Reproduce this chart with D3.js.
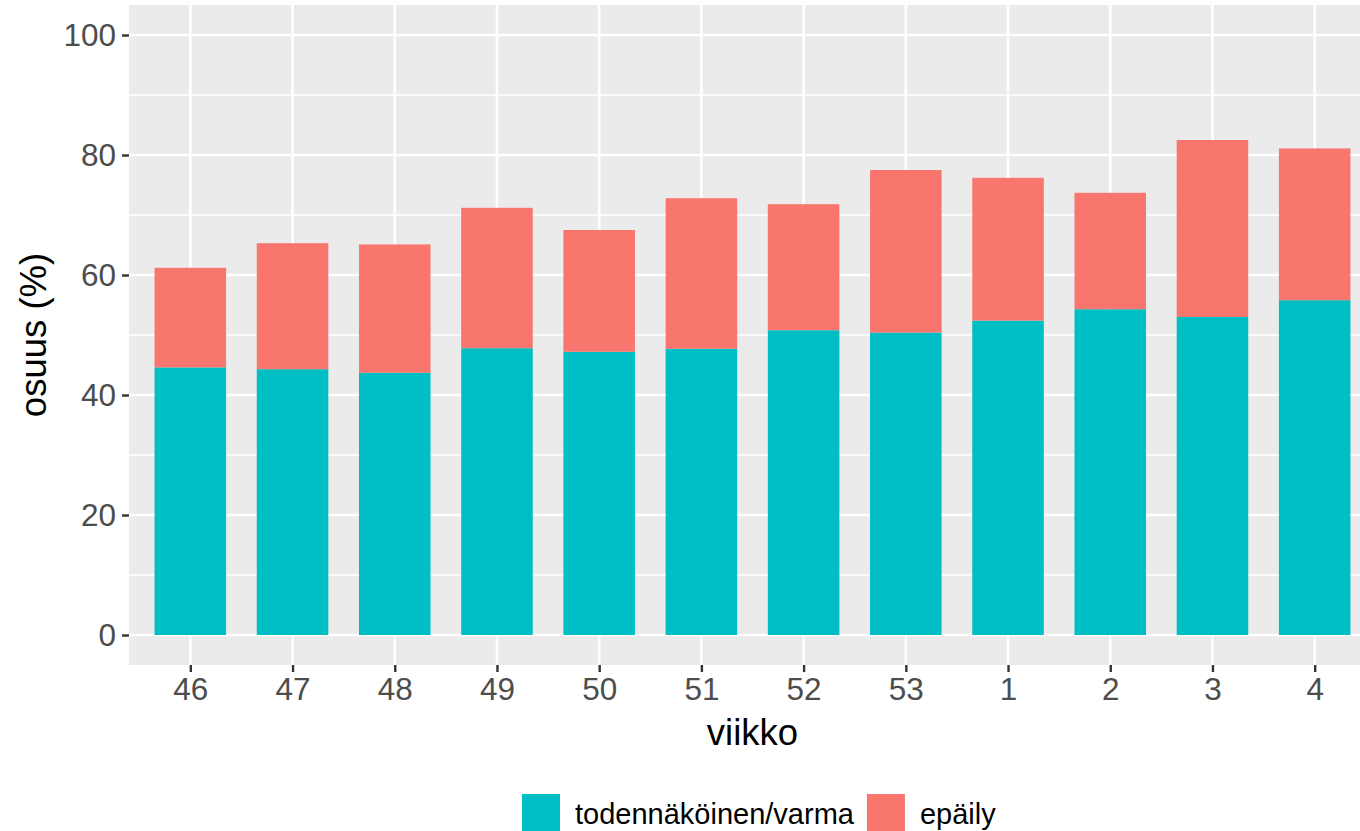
<!DOCTYPE html>
<html>
<head>
<meta charset="utf-8">
<script src="https://cdn.jsdelivr.net/npm/d3@7"></script>
<style>
  body { margin: 0; background: #fff; }
  svg text { font-family: "Liberation Sans", Arial, sans-serif; }
</style>
</head>
<body>
<div id="chart"></div>
<script>
// weeks on x axis
const weeks = ["46", "47", "48", "49", "50", "51", "52", "53", "1", "2", "3", "4"];
// share (%) per week, stacked: confirmed at bottom, suspected on top
const confirmed = [44.6, 44.3, 43.7, 47.8, 47.2, 47.7, 50.8, 50.4, 52.4, 54.3, 53.0, 55.8];
const suspected = [16.6, 21.0, 21.4, 23.4, 20.3, 25.1, 21.0, 27.1, 23.8, 19.4, 29.5, 25.3];
const seriesNames = ["todennäköinen/varma", "epäily"];
const seriesColors = ["#00BFC4", "#F8766D"];
const yTicks = [0, 20, 40, 60, 80, 100];
const yMinor = [10, 30, 50, 70, 90];

const width = 1360, height = 831;
const panel = { left: 129, right: 1376, top: 5, bottom: 665 };

let svg = d3.select("#chart").append("svg")
  .attr("width", width)
  .attr("height", height);

// scales: discrete weeks with ggplot-like 0.6 expansion, y limits 0..100 expanded 5%
let x = d3.scalePoint().domain(weeks).range([panel.left, panel.right]).padding(0.6);
let y = d3.scaleLinear().domain([-5, 105]).range([panel.bottom, panel.top]);
let barW = x.step() * 0.7;

// panel background
svg.append("rect")
  .attr("x", panel.left)
  .attr("y", panel.top)
  .attr("width", panel.right - panel.left)
  .attr("height", panel.bottom - panel.top)
  .attr("fill", "#EBEBEB");

// grid lines
svg.selectAll(".minor").data(yMinor).enter().append("line")
  .attr("x1", panel.left).attr("x2", panel.right)
  .attr("y1", d => y(d)).attr("y2", d => y(d))
  .attr("stroke", "#fff").attr("stroke-width", 1.3);
svg.selectAll(".majorY").data(yTicks).enter().append("line")
  .attr("x1", panel.left).attr("x2", panel.right)
  .attr("y1", d => y(d)).attr("y2", d => y(d))
  .attr("stroke", "#fff").attr("stroke-width", 2.6);
svg.selectAll(".majorX").data(weeks).enter().append("line")
  .attr("x1", d => x(d)).attr("x2", d => x(d))
  .attr("y1", panel.top).attr("y2", panel.bottom)
  .attr("stroke", "#fff").attr("stroke-width", 2.6);

// stacked bars
let stackData = weeks.map((w, i) => ({ week: w, s0: confirmed[i], s1: suspected[i] }));
let stacked = d3.stack().keys(["s0", "s1"])(stackData);
stacked.forEach((layer, li) => {
  svg.selectAll(".bar" + li).data(layer).enter().append("rect")
    .attr("x", d => x(d.data.week) - barW / 2)
    .attr("y", d => y(d[1]))
    .attr("width", barW)
    .attr("height", d => y(d[0]) - y(d[1]))
    .attr("fill", seriesColors[li]);
});

// y axis
let yAxis = svg.append("g")
  .attr("transform", "translate(" + panel.left + ",0)")
  .call(d3.axisLeft(y).tickValues(yTicks).tickSize(7).tickPadding(6));
yAxis.select(".domain").remove();
yAxis.selectAll(".tick line").attr("stroke", "#333").attr("stroke-width", 2.4);
yAxis.selectAll(".tick text")
  .attr("fill", "#4D4D4D")
  .style("font-size", "31.5px");

// x axis
let xAxis = svg.append("g")
  .attr("transform", "translate(0," + panel.bottom + ")")
  .call(d3.axisBottom(x).tickSize(7).tickPadding(6));
xAxis.select(".domain").remove();
xAxis.selectAll(".tick line").attr("stroke", "#333").attr("stroke-width", 2.4);
xAxis.selectAll(".tick text")
  .attr("fill", "#4D4D4D")
  .style("font-size", "31.5px");

// axis titles
svg.append("text")
  .attr("x", (panel.left + panel.right) / 2)
  .attr("y", 745)
  .attr("text-anchor", "middle")
  .style("font-size", "36.5px")
  .attr("fill", "#000")
  .text("viikko");
svg.append("text")
  .attr("transform", "translate(46," + (panel.top + panel.bottom) / 2 + ") rotate(-90)")
  .attr("text-anchor", "middle")
  .style("font-size", "36.5px")
  .attr("fill", "#000")
  .text("osuus (%)");

// legend at bottom
let legend = svg.append("g");
let keySize = 38;
let lx = 522;
seriesNames.forEach((name, i) => {
  legend.append("rect")
    .attr("x", lx).attr("y", 794)
    .attr("width", keySize).attr("height", keySize)
    .attr("fill", seriesColors[i]);
  let t = legend.append("text")
    .attr("x", lx + keySize + 15)
    .attr("y", 824)
    .style("font-size", "29px")
    .attr("fill", "#000")
    .text(name);
  lx = lx + keySize + 15 + t.node().getComputedTextLength() + 13;
});
</script>
</body>
</html>
